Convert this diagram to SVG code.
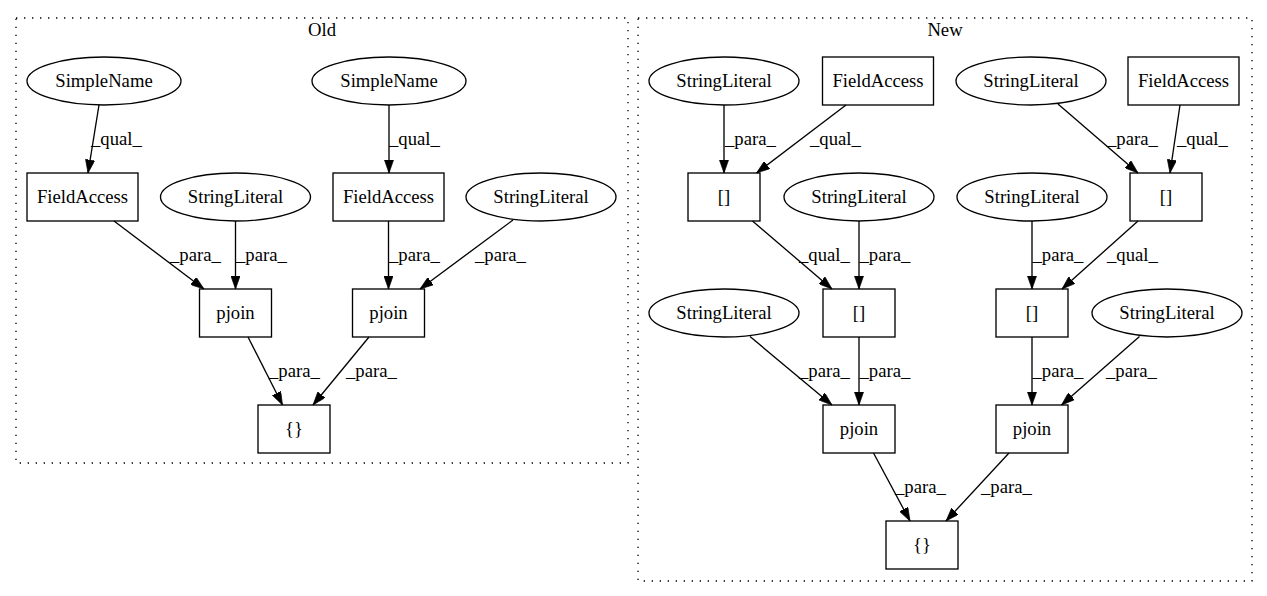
<svg xmlns="http://www.w3.org/2000/svg" width="1267" height="596" viewBox="0 0 1267 596">
<style>
.bg{fill:#ffffff}
.cl{fill:none;stroke:#000;stroke-width:1.33;stroke-dasharray:1.33,6.67}
.n{fill:none;stroke:#000;stroke-width:1.33}
text{font-family:"Liberation Serif","Times New Roman",serif;font-size:18.67px;fill:#000}
.c{text-anchor:middle}
.e{fill:none;stroke:#000;stroke-width:1.33;marker-end:url(#ah)}
</style>
<defs>
<marker id="ah" viewBox="0 0 10 7" refX="10" refY="3.5" markerWidth="13.3" markerHeight="9.3" markerUnits="userSpaceOnUse" orient="auto">
<path d="M0,0 L10,3.5 L0,7 z" fill="#000" stroke="#000" stroke-width="0.5"/>
</marker>
</defs>
<rect class="bg" x="0" y="0" width="1267" height="596"/>

<g id="cluster_old">
<rect class="cl" x="16" y="18" width="612" height="445"/>
<text class="c" x="322" y="36">Old</text>
</g>
<g id="cluster_new">
<rect class="cl" x="638" y="18" width="614" height="563"/>
<text class="c" x="945" y="36">New</text>
</g>

<!-- Old nodes -->
<g id="old_simplename1"><ellipse class="n" cx="104" cy="81" rx="77" ry="24"/><text class="c" x="104" y="87">SimpleName</text></g>
<g id="old_simplename2"><ellipse class="n" cx="389" cy="81" rx="77" ry="24"/><text class="c" x="389" y="87">SimpleName</text></g>
<g id="old_fieldaccess1"><rect class="n" x="27" y="173" width="111" height="48"/><text class="c" x="82.5" y="203">FieldAccess</text></g>
<g id="old_stringliteral1"><ellipse class="n" cx="235.5" cy="197" rx="75" ry="24"/><text class="c" x="235.5" y="203">StringLiteral</text></g>
<g id="old_fieldaccess2"><rect class="n" x="333" y="173" width="111" height="48"/><text class="c" x="388.5" y="203">FieldAccess</text></g>
<g id="old_stringliteral2"><ellipse class="n" cx="541" cy="197" rx="75" ry="24"/><text class="c" x="541" y="203">StringLiteral</text></g>
<g id="old_pjoin1"><rect class="n" x="199.5" y="289" width="72" height="48"/><text class="c" x="235.5" y="319">pjoin</text></g>
<g id="old_pjoin2"><rect class="n" x="352.5" y="289" width="72" height="48"/><text class="c" x="388.5" y="319">pjoin</text></g>
<g id="old_braces"><rect class="n" x="258" y="405" width="72" height="48"/><text class="c" x="294" y="435">{}</text></g>

<!-- New nodes -->
<g id="new_stringliteral_a"><ellipse class="n" cx="724" cy="81" rx="75" ry="24"/><text class="c" x="724" y="87">StringLiteral</text></g>
<g id="new_fieldaccess_a"><rect class="n" x="822.5" y="57" width="111" height="48"/><text class="c" x="878" y="87">FieldAccess</text></g>
<g id="new_stringliteral_b"><ellipse class="n" cx="1031" cy="81" rx="75" ry="24"/><text class="c" x="1031" y="87">StringLiteral</text></g>
<g id="new_fieldaccess_b"><rect class="n" x="1128" y="57" width="111" height="48"/><text class="c" x="1183.5" y="87">FieldAccess</text></g>
<g id="new_index_a1"><rect class="n" x="688" y="173" width="72" height="48"/><text class="c" x="724" y="203">[]</text></g>
<g id="new_stringliteral_c"><ellipse class="n" cx="859" cy="197" rx="75" ry="24"/><text class="c" x="859" y="203">StringLiteral</text></g>
<g id="new_stringliteral_d"><ellipse class="n" cx="1032" cy="197" rx="75" ry="24"/><text class="c" x="1032" y="203">StringLiteral</text></g>
<g id="new_index_b1"><rect class="n" x="1130" y="173" width="72" height="48"/><text class="c" x="1166" y="203">[]</text></g>
<g id="new_index_a2"><rect class="n" x="823" y="289" width="72" height="48"/><text class="c" x="859" y="319">[]</text></g>
<g id="new_index_b2"><rect class="n" x="996" y="289" width="72" height="48"/><text class="c" x="1032" y="319">[]</text></g>
<g id="new_stringliteral_e"><ellipse class="n" cx="724" cy="313" rx="75" ry="24"/><text class="c" x="724" y="319">StringLiteral</text></g>
<g id="new_stringliteral_f"><ellipse class="n" cx="1167" cy="313" rx="75" ry="24"/><text class="c" x="1167" y="319">StringLiteral</text></g>
<g id="new_pjoin_a"><rect class="n" x="823" y="405" width="72" height="48"/><text class="c" x="859" y="435">pjoin</text></g>
<g id="new_pjoin_b"><rect class="n" x="996" y="405" width="72" height="48"/><text class="c" x="1032" y="435">pjoin</text></g>
<g id="new_braces"><rect class="n" x="886" y="521" width="72" height="48"/><text class="c" x="922" y="551">{}</text></g>

<g id="connectors">
<!-- Old -->
<path class="e" d="M99,105 L88,173"/><text x="91" y="145">_qual_</text>
<path class="e" d="M389,105 L389,173"/><text x="389" y="145">_qual_</text>
<path class="e" d="M114,221 L204,289"/><text x="170" y="261">_para_</text>
<path class="e" d="M235.5,221 L235.5,289"/><text x="236" y="261">_para_</text>
<path class="e" d="M388.5,221 L388.5,289"/><text x="389" y="261">_para_</text>
<path class="e" d="M513,220 L420,289"/><text x="475" y="261">_para_</text>
<path class="e" d="M248,337 L282.5,405"/><text x="269" y="377">_para_</text>
<path class="e" d="M369,337 L313,405"/><text x="346" y="377">_para_</text>
<!-- New -->
<path class="e" d="M724,105 L724,173"/><text x="725" y="145">_para_</text>
<path class="e" d="M846,105 L756.5,173"/><text x="810" y="145">_qual_</text>
<path class="e" d="M1058,104 L1138,173"/><text x="1107" y="145">_para_</text>
<path class="e" d="M1180,105 L1170,173"/><text x="1177" y="145">_qual_</text>
<path class="e" d="M752.5,221 L832,289"/><text x="799" y="261">_qual_</text>
<path class="e" d="M859,221 L859,289"/><text x="859.5" y="261">_para_</text>
<path class="e" d="M1032,221 L1032,289"/><text x="1032.5" y="261">_para_</text>
<path class="e" d="M1138,221 L1062,289"/><text x="1107" y="261">_qual_</text>
<path class="e" d="M750,336.5 L832,405"/><text x="799" y="377">_para_</text>
<path class="e" d="M859,337 L859,405"/><text x="859.5" y="377">_para_</text>
<path class="e" d="M1032,337 L1032,405"/><text x="1032.5" y="377">_para_</text>
<path class="e" d="M1139.5,336.5 L1061.5,405"/><text x="1106" y="377">_para_</text>
<path class="e" d="M873.5,453 L910,521"/><text x="895" y="493">_para_</text>
<path class="e" d="M1009,453 L946,521"/><text x="981" y="493">_para_</text>
</g>
</svg>
